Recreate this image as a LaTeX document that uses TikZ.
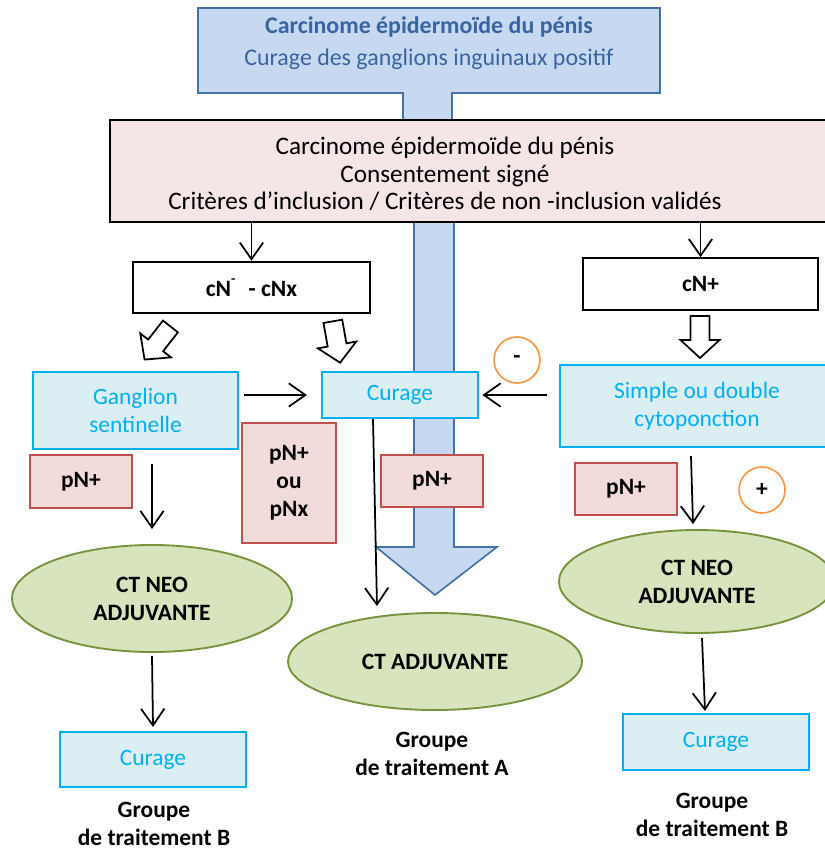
\documentclass[tikz,border=0pt]{standalone}
\usepackage{fontspec}
\setmainfont{Carlito}
\usetikzlibrary{positioning}
\usetikzlibrary{shapes.geometric, arrows.meta, calc}

\definecolor{calloutfill}{HTML}{C6D9F1}
\definecolor{calloutline}{HTML}{4471A8}
\definecolor{callouttext}{HTML}{3A64A0}
\definecolor{mainfill}{HTML}{F4E6E6}
\definecolor{pnfill}{HTML}{F2DCDB}
\definecolor{pnline}{HTML}{C0504D}
\definecolor{stepfill}{HTML}{DBEEF4}
\definecolor{stepline}{HTML}{00B0F0}
\definecolor{ctfill}{HTML}{D7E4BD}
\definecolor{ctline}{HTML}{77933C}
\definecolor{signline}{HTML}{F79646}

\tikzset{
  txt/.style={font=\fontsize{20}{24}\selectfont, align=center},
  boldtxt/.style={font=\fontsize{20}{24}\selectfont\bfseries, align=center},
  cbox/.style={boldtxt, draw=black, line width=1.6pt, fill=white, minimum width=7.1cm, minimum height=1.55cm},
  stepbox/.style={txt, draw=stepline, fill=stepfill, line width=1.8pt, text=stepline},
  pnbox/.style={boldtxt, draw=pnline, fill=pnfill, line width=1.6pt, minimum width=3.06cm, minimum height=1.57cm},
  ctnode/.style={boldtxt, ellipse, draw=ctline, fill=ctfill, line width=1.6pt},
  signe/.style={boldtxt, circle, draw=signline, line width=1.4pt, fill=white, minimum size=1.38cm, inner sep=0pt},
  hollow/.style={draw=black, fill=white, line width=1.5pt, line join=miter},
  arr/.style={line width=1.5pt, -{Straight Barb[length=0.5cm,width=0.7cm]}},
}

\newcommand{\hollowarrow}[2]{%
  \draw[hollow, shift={#1}, rotate=#2] (-21,-9.5) -- (3,-9.5) -- (3,-19.5) -- (21,0) -- (3,19.5) -- (3,9.5) -- (-21,9.5) -- cycle;}

\begin{document}
\begin{tikzpicture}[x=0.03cm,y=-0.03cm]
\useasboundingbox (0,0) rectangle (825,850);
\clip (0,0) rectangle (825,850);
\fill[white] (0,0) rectangle (825,850);

\draw[fill=calloutfill,draw=calloutline,line width=1.4pt] (198,8) -- (660,8) -- (660,93) -- (452,93) -- (452,125) -- (403,125) -- (403,93) -- (198,93) -- cycle;
\node[txt,text=callouttext,font=\fontsize{20.4}{27}\selectfont] (titre) at (429,43) {\textbf{Carcinome épidermoïde du pénis}\\Curage des ganglions inguinaux positif};
\draw[fill=calloutfill,draw=calloutline,line width=1.4pt] (414,215) -- (454,215) -- (454,547) -- (497,547) -- (435,595) -- (376,547) -- (414,547) -- cycle;

\node[draw=black,line width=2pt,fill=mainfill,minimum width=21.6cm,minimum height=3.06cm] (main) at (470,171) {};
\node[txt,font=\fontsize{21.5}{23.5}\selectfont] (mainTxt) at (445,174) {Carcinome épidermoïde du pénis\\Consentement signé\\Critères d’inclusion / Critères de non -inclusion validés};

\node[cbox,minimum width=7.11cm] (cNm) at (251.5,287.5) {cN\raisebox{1.1ex}{\fontsize{12}{12}\selectfont -}\,\, - cNx};
\node[cbox,minimum width=7.05cm] (cNp) at (700.5,284) {cN+};

\hollowarrow{(157.5,343)}{232}
\hollowarrow{(336.5,342)}{-80}
\hollowarrow{(700,337)}{-90}

\node[stepbox,minimum width=6.15cm,minimum height=2.31cm] (gs) at (135.5,410.5) {Ganglion\\sentinelle};
\node[stepbox,minimum width=4.68cm,minimum height=1.38cm] (cur) at (400,395) {Curage};
\node[stepbox,minimum width=8.22cm,minimum height=2.46cm] (simple) at (697,406) {Simple ou double\\cytoponction};
\node[signe] (moins) at (517,360) {-};
\node[signe] (plus) at (762,490) {+};

\node[pnbox] (pnL) at (81,481.5) {pN+};
\node[pnbox,minimum width=2.82cm,minimum height=3.6cm] (pnx) at (289,483) {pN+\\ou\\pNx};
\node[pnbox] (pnM) at (432,481) {pN+};
\node[pnbox] (pnR) at (626,489) {pN+};

\node[ctnode,minimum width=8.4cm,minimum height=3.21cm] (ctL) at (152,598.5) {CT NEO\\ADJUVANTE};
\node[ctnode,minimum width=8.82cm,minimum height=2.91cm] (ctA) at (435,661.5) {CT ADJUVANTE};
\node[ctnode,minimum width=8.28cm,minimum height=3.09cm] (ctR) at (697,581.5) {CT NEO\\ADJUVANTE};

\node[stepbox,minimum width=5.58cm,minimum height=1.65cm] (curL) at (153,759.5) {Curage};
\node[stepbox,minimum width=5.58cm,minimum height=1.68cm] (curR) at (716,742) {Curage};

\node[boldtxt] (grA) at (432,754) {Groupe\\de traitement A};
\node[boldtxt] (grBL) at (154,824) {Groupe\\de traitement B};
\node[boldtxt] (grBR) at (712,815) {Groupe\\de traitement B};

\draw[arr] (cNm.north |- main.south) -- (cNm.north);
\draw[arr] (cNp.north |- main.south) -- (cNp.north);
\draw[arr,shorten <=0.15cm,shorten >=0.42cm] (gs.east |- cur.west) -- (cur.west);
\draw[arr,shorten <=0.36cm,shorten >=0.1cm] (simple.west |- cur.east) -- (cur.east);
\draw[arr,shorten <=0.42cm,shorten >=0.45cm] (ctL.north |- gs.south) -- (ctL.north);
\draw[arr] ($(cur.south)+(-27,0)$) -- ($(ctA.north)+(-58,-6)$);
\draw[arr] ($(simple.south)+(-6,8)$) -- ($(ctR.north)+(-4,-5)$);
\draw[arr] ($(ctL.south)+(0,3)$) -- ($(curL.north)+(0,-4)$);
\draw[arr] ($(ctR.south)+(5,4)$) -- ($(curR.north)+(-11,-2)$);

\end{tikzpicture}
\end{document}
